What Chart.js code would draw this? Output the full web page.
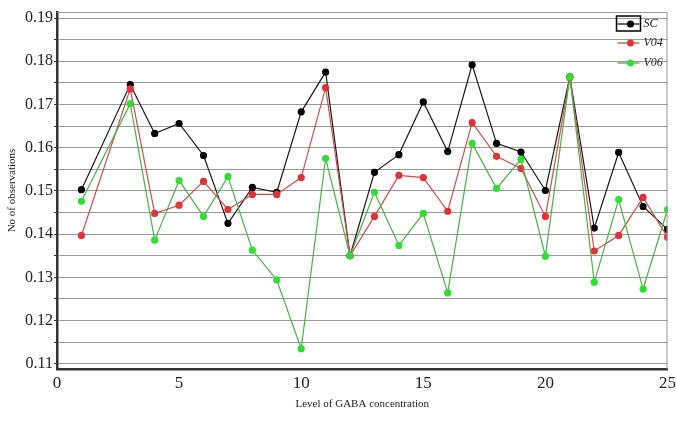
<!DOCTYPE html>
<html>
<head>
<meta charset="utf-8">
<script src="https://cdn.jsdelivr.net/npm/chart.js@4/dist/chart.umd.min.js"></script>
<style>
  html, body { margin: 0; padding: 0; background: #fff; }
  #wrap { width: 676px; height: 430px; }
</style>
</head>
<body>
<div id="wrap"><canvas id="gabaChart"></canvas></div>
<script>
// niveaux de GABA (pas de point en 2)
const levels = [1, 3, 4, 5, 6, 7, 8, 9, 10, 11, 12, 13, 14, 15, 16, 17, 18, 19, 20, 21, 22, 23, 24, 25];
const seriesNames = ['SC', 'V04', 'V06'];
const scValues = [0.1503, 0.1746, 0.1633, 0.1656, 0.1582, 0.1425, 0.1508, 0.1497, 0.1683, 0.1775, 0.1350, 0.1543,
                  0.1584, 0.1706, 0.1591, 0.1792, 0.1610, 0.1590, 0.1501, 0.1764, 0.1414, 0.1589, 0.1464, 0.1411];
const v04Values = [0.1397, 0.1736, 0.1448, 0.1467, 0.1522, 0.1457, 0.1492, 0.1492, 0.1531, 0.1739, 0.1350, 0.1441,
                   0.1536, 0.1531, 0.1453, 0.1658, 0.1580, 0.1552, 0.1441, 0.1762, 0.1361, 0.1397, 0.1485, 0.1393];
const v06Values = [0.1476, 0.1702, 0.1386, 0.1524, 0.1441, 0.1533, 0.1363, 0.1294, 0.1135, 0.1575, 0.1350, 0.1497,
                   0.1374, 0.1448, 0.1264, 0.1610, 0.1506, 0.1573, 0.1349, 0.1764, 0.1289, 0.1480, 0.1273, 0.1457];
const xTicks = [0, 5, 10, 15, 20, 25];
const yTicks = [0.11, 0.115, 0.12, 0.125, 0.13, 0.135, 0.14, 0.145, 0.15, 0.155, 0.16, 0.165, 0.17, 0.175, 0.18, 0.185, 0.19];

const lineColors = ['#1a1a1a', '#c9504f', '#4caf4a'];
const pointColors = ['#000000', '#e0333a', '#33dd33'];
const serif = "'Liberation Serif', 'DejaVu Serif', serif";

function toPoints(values) {
    return levels.map((lv, i) => ({ x: lv, y: values[i] }));
}

// cadre gris + légende dans la zone du graphe
const framePlugin = {
    id: 'frameAndLegend',
    afterDraw(chart) {
        const ctx = chart.ctx;
        const a = chart.chartArea;
        ctx.save();
        ctx.strokeStyle = '#999';
        ctx.lineWidth = 1;
        ctx.beginPath();
        ctx.moveTo(a.left, a.top + 0.5);
        ctx.lineTo(a.right - 0.5, a.top + 0.5);
        ctx.lineTo(a.right - 0.5, a.bottom);
        ctx.stroke();

        const x0 = a.right - 50;
        const rows = [a.top + 12, a.top + 31, a.top + 51];
        chart.data.datasets.forEach((ds, i) => {
            const y = rows[i];
            ctx.strokeStyle = ds.borderColor;
            ctx.lineWidth = 1.3;
            ctx.beginPath();
            ctx.moveTo(x0, y);
            ctx.lineTo(x0 + 22, y);
            ctx.stroke();
            ctx.fillStyle = ds.pointBackgroundColor;
            ctx.beginPath();
            ctx.arc(x0 + 13, y, 3.5, 0, Math.PI * 2);
            ctx.fill();
            ctx.fillStyle = '#222';
            ctx.font = 'italic 12px ' + serif;
            ctx.textBaseline = 'middle';
            ctx.fillText(ds.label, x0 + 26, y);
        });
        // petit cadre autour de SC
        ctx.strokeStyle = '#000';
        ctx.lineWidth = 1.5;
        ctx.strokeRect(x0 - 1, rows[0] - 8, 24, 15);
        ctx.restore();
    }
};

function createGabaChart() {
    const ctx = document.getElementById('gabaChart').getContext('2d');
    const valueSets = [scValues, v04Values, v06Values];
    const gabaChart = new Chart(ctx, {
        type: 'line',
        data: {
            datasets: seriesNames.map((name, i) => ({
                label: name,
                data: toPoints(valueSets[i]),
                borderColor: lineColors[i],
                backgroundColor: pointColors[i],
                pointBackgroundColor: pointColors[i],
                pointBorderColor: pointColors[i],
                pointRadius: 3,
                borderWidth: 1.2,
                tension: 0,
                order: 2 - i
            }))
        },
        options: {
            responsive: true,
            maintainAspectRatio: false,
            animation: false,
            layout: { padding: { top: 12, right: 8, bottom: 15, left: 2 } },
            plugins: {
                legend: { display: false },
                tooltip: { enabled: false }
            },
            scales: {
                x: {
                    type: 'linear',
                    min: 0,
                    max: 25,
                    afterBuildTicks: (scale) => { scale.ticks = xTicks.map(v => ({ value: v })); },
                    afterFit: (scale) => { scale.height = 46; },
                    grid: { display: false, drawTicks: true, tickLength: 4, color: '#333' },
                    border: { display: true, color: '#333', width: 2.5 },
                    ticks: { color: '#222', font: { family: serif, size: 17 }, padding: 0, maxRotation: 0 },
                    title: {
                        display: true,
                        text: 'Level of GABA concentration',
                        color: '#222',
                        font: { family: serif, size: 11 },
                        padding: { top: 7 }
                    }
                },
                y: {
                    min: 0.1088,
                    max: 0.1914,
                    afterBuildTicks: (scale) => { scale.ticks = yTicks.map(v => ({ value: v })); },
                    afterFit: (scale) => { scale.width = 55; },
                    grid: { color: '#9a9a9a', lineWidth: 1, tickLength: 3, tickColor: '#333' },
                    border: { display: true, color: '#333', width: 2.5 },
                    ticks: {
                        color: '#222',
                        font: { family: serif, size: 16 },
                        padding: 1,
                        callback: (v) => {
                            const r = Math.round(v * 1000);
                            return r % 10 === 0 ? (r / 1000).toFixed(2) : '';
                        }
                    },
                    title: {
                        display: true,
                        text: 'No of observations',
                        color: '#222',
                        font: { family: serif, size: 11 },
                        padding: { bottom: 0 }
                    }
                }
            }
        },
        plugins: [framePlugin]
    });
}

window.onload = function() {
    createGabaChart();
};
</script>
</body>
</html>
